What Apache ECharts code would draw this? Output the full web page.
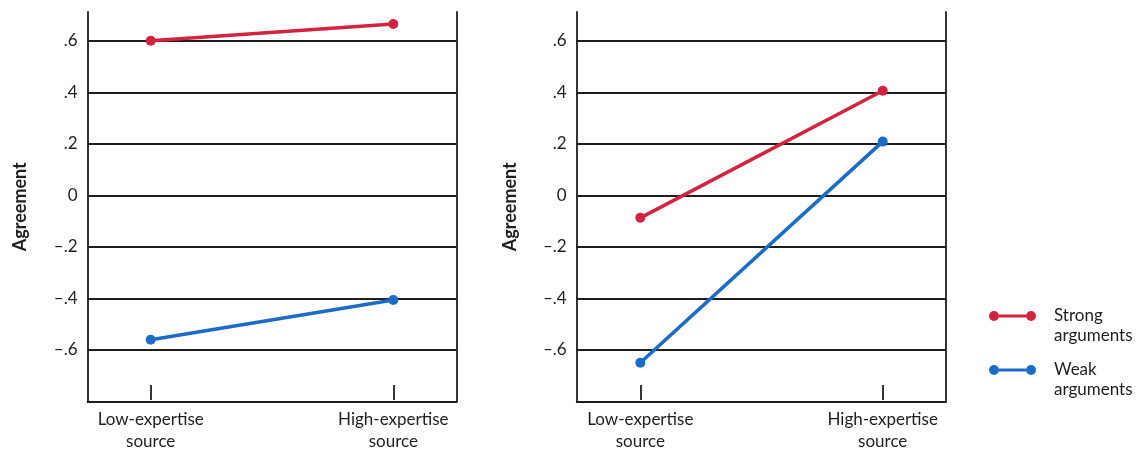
<!DOCTYPE html>
<html>
<head>
<meta charset="utf-8">
<script src="https://cdn.jsdelivr.net/npm/echarts@6/dist/echarts.min.js"></script>
<style>
html,body{margin:0;padding:0;background:#fff;}
#chart{width:1137px;height:453px;}
</style>
</head>
<body>
<div id="chart"></div>
<script>
// ---- data ----
const categories = ['Low-expertise\nsource', 'High-expertise\nsource'];
const seriesNames = ['Strong arguments', 'Weak arguments'];
const leftStrong = [0.60, 0.665];
const leftWeak = [-0.565, -0.41];
const rightStrong = [-0.09, 0.405];
const rightWeak = [-0.655, 0.207];
const yTickValues = [-0.6, -0.4, -0.2, 0, 0.2, 0.4, 0.6];
const yTickLabels = ['\u2013.6', '\u2013.4', '\u2013.2', '0', '.2', '.4', '.6'];
const yAxisTitle = 'Agreement';

// ---- style ----
const RED = '#d42340';
const BLUE = '#1b6cc8';
const INK = '#1e1e1e';
const FONT = 'Lato';
const YMIN = -0.8, YMAX = 0.712;

function yLabel(v) {
  for (let i = 0; i < yTickValues.length; i++) {
    if (Math.abs(yTickValues[i] - v) < 1e-6) return yTickLabels[i];
  }
  return '';
}

const panels = [
  {left: 87.5, width: 369, dataLeft: 150.7, dataWidth: 242.6, strong: leftStrong, weak: leftWeak},
  {left: 576.7, width: 369.3, dataLeft: 640.3, dataWidth: 242.4, strong: rightStrong, weak: rightWeak}
];
const TOP = 12, BOTTOM_Y = 401.5;
const H = BOTTOM_Y - TOP;

const grid = [], xAxis = [], yAxis = [], series = [];
panels.forEach((p, i) => {
  const fg = grid.length;
  grid.push({left: p.left, top: TOP, width: p.width, height: H});
  const dg = grid.length;
  grid.push({left: p.dataLeft, top: TOP, width: p.dataWidth, height: H});
  // frame x axis (bottom line)
  xAxis.push({type: 'value', gridIndex: fg, min: 0, max: 1, position: 'bottom',
    axisLine: {show: true, onZero: false, lineStyle: {color: INK, width: 1.8}},
    axisTick: {show: false}, axisLabel: {show: false}, splitLine: {show: false}});
  // data x axis (category)
  const dx = xAxis.length;
  xAxis.push({type: 'category', gridIndex: dg, data: categories, boundaryGap: false, position: 'bottom',
    axisLine: {show: false, onZero: false},
    axisTick: {show: true, inside: true, length: 15, lineStyle: {color: INK, width: 1.8}},
    axisLabel: {color: INK, fontFamily: FONT, fontSize: 17, lineHeight: 22, margin: 9, interval: 0},
    splitLine: {show: false}});
  // frame y axis left with gridlines
  yAxis.push({type: 'value', gridIndex: fg, min: YMIN, max: YMAX, interval: 0.2, position: 'left',
    name: yAxisTitle, nameLocation: 'middle', nameRotate: 90, nameGap: 58,
    nameTextStyle: {color: INK, fontFamily: FONT, fontSize: 18, fontWeight: 'bold'},
    axisLine: {show: true, onZero: false, lineStyle: {color: INK, width: 1.8}},
    axisTick: {show: false},
    axisLabel: {color: INK, fontFamily: FONT, fontSize: 17, margin: 10, formatter: yLabel, showMaxLabel: false, showMinLabel: false},
    splitLine: {show: true, showMinLine: false, showMaxLine: false, lineStyle: {color: INK, width: 1.8}}});
  // frame y axis right (border line)
  yAxis.push({type: 'value', gridIndex: fg, min: YMIN, max: YMAX, position: 'right',
    axisLine: {show: true, onZero: false, lineStyle: {color: INK, width: 1.8}},
    axisTick: {show: false}, axisLabel: {show: false}, splitLine: {show: false}});
  // data y axis (hidden)
  const dy = yAxis.length;
  yAxis.push({type: 'value', gridIndex: dg, min: YMIN, max: YMAX, show: false, splitLine: {show: false}});

  [[seriesNames[0], p.strong, RED], [seriesNames[1], p.weak, BLUE]].forEach(([name, vals, color]) => {
    series.push({
      type: 'line', name: name, xAxisIndex: dx, yAxisIndex: dy, data: vals,
      color: color, symbol: 'circle', symbolSize: 10, showSymbol: true,
      lineStyle: {color: color, width: 3.6}, itemStyle: {color: color},
      silent: true, animation: false, z: 5
    });
  });
});

const iconPath = 'path://M0,5A5,5,0,1,0,10,5A5,5,0,1,0,0,5ZM10,3.4L37,3.4L37,6.6L10,6.6ZM37,5A5,5,0,1,0,47,5A5,5,0,1,0,37,5Z';

const option = {
  animation: false,
  backgroundColor: '#fff',
  grid: grid,
  xAxis: xAxis,
  yAxis: yAxis,
  legend: {
    orient: 'vertical', left: 989, top: 286, itemGap: -6, padding: 0,
    itemWidth: 47, itemHeight: 10, selectedMode: false,
    data: seriesNames.map(n => ({name: n, icon: iconPath})),
    formatter: n => ' \n' + n.replace(' ', '\n'),
    textStyle: {color: INK, fontFamily: FONT, fontSize: 17, lineHeight: 20, padding: [0, 0, 0, 13]}
  },
  series: series
};

const chart = echarts.init(document.getElementById('chart'), null, {renderer: 'canvas'});
chart.setOption(option);
</script>
</body>
</html>
